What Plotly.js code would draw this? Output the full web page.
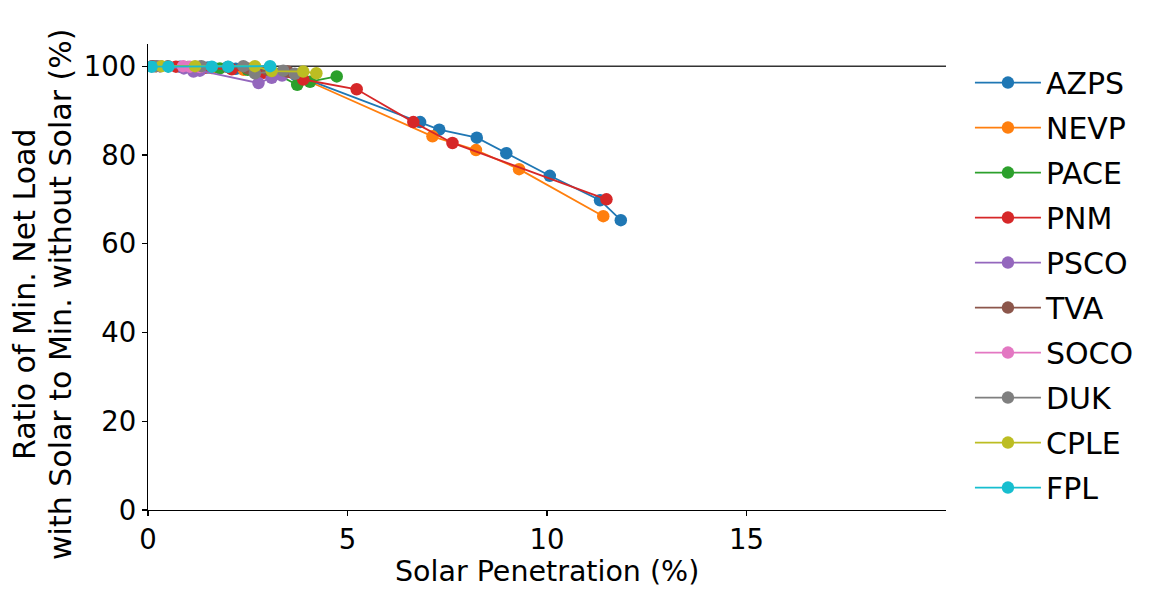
<!DOCTYPE html>
<html>
<head>
<meta charset="utf-8">
<script src="https://cdn.plot.ly/plotly-3.0.1.min.js"></script>
<style>body{margin:0;padding:0;background:#fff;} #chart{width:1150px;height:589px;}</style>
</head>
<body>
<div id="chart"></div>
<script>
const seriesNames = ["AZPS","NEVP","PACE","PNM","PSCO","TVA","SOCO","DUK","CPLE","FPL"];
const seriesColors = ["#1f77b4","#ff7f0e","#2ca02c","#d62728","#9467bd","#8c564b","#e377c2","#7f7f7f","#bcbd22","#17becf"];

const azpsX = [0.15, 0.8, 1.5, 2.2, 3.0, 3.7, 6.82, 7.30, 8.24, 8.98, 10.07, 11.33, 11.85];
const azpsY = [100, 99.9, 99.7, 99.4, 98.8, 98.0, 87.4, 85.7, 83.9, 80.4, 75.3, 69.8, 65.3];
const nevpX = [0.2, 0.9, 1.6, 2.4, 3.1, 3.8, 7.13, 8.22, 9.30, 11.41];
const nevpY = [100, 99.8, 99.6, 99.2, 98.5, 97.5, 84.2, 81.1, 76.8, 66.2];
const paceX = [0.3, 1.0, 1.8, 2.5, 3.2, 3.74, 4.06, 4.73];
const paceY = [100, 99.8, 99.5, 99.2, 98.3, 95.8, 96.5, 97.7];
const pnmX = [0.1, 0.7, 1.4, 2.1, 2.9, 3.89, 5.23, 6.65, 7.63, 11.49];
const pnmY = [100, 99.9, 99.6, 99.3, 98.5, 97.0, 94.8, 87.4, 82.7, 70.0];
const pscoX = [0.3, 0.9, 1.14, 1.3, 2.77, 3.1, 3.36];
const pscoY = [100, 99.5, 98.8, 99.0, 96.2, 97.4, 97.9];
const tvaX = [0.5, 1.3, 2.0, 2.5, 3.0, 3.5];
const tvaY = [100, 99.9, 99.8, 99.5, 99.2, 98.8];
const socoX = [0.3, 0.88, 1.05, 1.3];
const socoY = [100, 100, 99.9, 99.8];
const dukX = [0.2, 1.34, 2.39, 2.68, 3.39, 3.68];
const dukY = [100, 100, 100, 98.4, 99.0, 98.3];
const cpleX = [0.34, 1.18, 2.68, 3.1, 3.89, 4.22];
const cpleY = [100, 100, 100, 98.9, 98.8, 98.4];
const fplX = [0.09, 0.51, 1.6, 2.01, 3.06];
const fplY = [99.9, 99.9, 99.9, 99.9, 100];

const xs = [azpsX, nevpX, paceX, pnmX, pscoX, tvaX, socoX, dukX, cpleX, fplX];
const ys = [azpsY, nevpY, paceY, pnmY, pscoY, tvaY, socoY, dukY, cpleY, fplY];

const xTicks = [0, 5, 10, 15];
const yTicks = [0, 20, 40, 60, 80, 100];
const refLine = 100;
const xRange = [0, 20];
const yRange = [0, 105];

const xTitle = "Solar Penetration (%)";
const yTitleLines = ["Ratio of Min. Net Load", "with Solar to Min. without Solar (%)"];

const font = "DejaVu Sans, sans-serif";
const fs = 30;
const tfs = 27.5;
const xfs = 28.5;

const traces = seriesNames.map((n, i) => ({
  type: "scatter", mode: "lines+markers", name: n,
  x: xs[i], y: ys[i],
  legendgroup: n,
  line: {color: seriesColors[i], width: 1.8},
  marker: {color: seriesColors[i], size: 12.5}
}));

const layout = {
  width: 1150, height: 589,
  margin: {l: 148, r: 204, t: 44, b: 79, autoexpand: false},
  paper_bgcolor: "#fff", plot_bgcolor: "#fff",
  font: {family: font, size: fs, color: "#000"},
  showlegend: true,
  legend: {x: 1.03, xanchor: "left", y: 0.973, yanchor: "top", tracegroupgap: 3, itemwidth: 66,
           font: {family: font, size: fs, color: "#000"}, bgcolor: "rgba(0,0,0,0)"},
  xaxis: {range: xRange, tickvals: xTicks, ticktext: xTicks.map(String),
          showgrid: false, zeroline: false, showline: true, linecolor: "#000", linewidth: 1.3,
          ticks: "outside", ticklen: 5, tickwidth: 1.3, tickcolor: "#000",
          tickfont: {family: font, size: tfs}},
  yaxis: {range: yRange, tickvals: yTicks, ticktext: yTicks.map(String),
          showgrid: false, zeroline: false, showline: true, linecolor: "#000", linewidth: 1.3,
          ticks: "outside", ticklen: 5, tickwidth: 1.3, tickcolor: "#000",
          tickfont: {family: font, size: tfs}},
  annotations: [
    {text: xTitle, xref: "paper", x: 0.5, xanchor: "center", yref: "paper", y: -0.1695, yanchor: "bottom",
     borderpad: 0, showarrow: false, font: {family: font, size: xfs}},
    {text: yTitleLines[0], xref: "paper", x: -0.155, xanchor: "center", yref: "paper", y: 0.462, yanchor: "middle",
     borderpad: 0, textangle: -90, showarrow: false, font: {family: font, size: fs}},
    {text: yTitleLines[1], xref: "paper", x: -0.11, xanchor: "center", yref: "paper", y: 0.462, yanchor: "middle",
     borderpad: 0, textangle: -90, showarrow: false, font: {family: font, size: fs}}
  ],
  shapes: [{type: "line", xref: "paper", x0: 0, x1: 1, yref: "y", y0: refLine, y1: refLine,
            line: {color: "#333", width: 1.4}, layer: "below"}]
};

Plotly.newPlot("chart", traces, layout, {displayModeBar: false, staticPlot: true});
</script>
</body>
</html>
